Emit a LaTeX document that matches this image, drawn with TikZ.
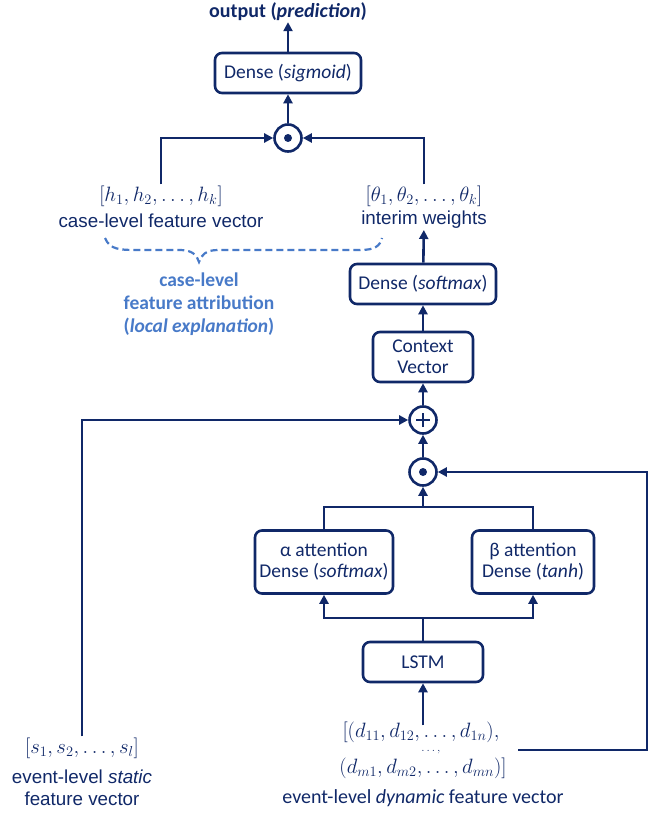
\documentclass[tikz,border=0pt]{standalone}
\usepackage{fontspec}
\setmainfont{Carlito}
\newfontfamily\arialf{Liberation Sans}
\usetikzlibrary{arrows.meta}
\definecolor{navy}{RGB}{16,40,104}
\definecolor{attb}{RGB}{72,122,200}
\begin{document}
\begin{tikzpicture}[x=1pt,y=-1pt,
  box/.style={draw=navy, line width=2.6pt, rounded corners=7pt, text=navy,
    font=\fontsize{19.5}{21}\selectfont, align=center, inner sep=0pt},
  opc/.style={draw=navy, circle, line width=2.6pt, minimum size=27pt, inner sep=0pt},
  conn/.style={draw=navy, line width=2.6pt},
  arr/.style={conn, -{Triangle[length=9pt,width=9pt]}},
  lbl/.style={text=navy, font=\arialf\fontsize{18.8}{21}\selectfont, align=center, inner sep=1pt},
  clbl/.style={text=navy, font=\fontsize{20}{22}\selectfont, align=center, inner sep=1pt},
  mth/.style={text=navy, font=\fontsize{20}{22}\selectfont, inner sep=1pt},
  note/.style={text=attb, font=\bfseries\fontsize{19.5}{23}\selectfont, align=center},
  brace/.style={draw=attb, line width=2.2pt, dash pattern=on 7pt off 4pt}
]
\useasboundingbox (0,0) rectangle (667,813);

% top part
\node[clbl, font=\bfseries\fontsize{20}{22}\selectfont] (out) at (288,12) {output (\textit{prediction})};
\node[box, minimum width=146pt, minimum height=40pt] (sig) at (288,73) {Dense (\textit{sigmoid})};
\node[opc] (m1) at (288,138) {};
\fill[navy] (m1.center) circle (4pt);

\node[mth] (hv) at (161,196) {$[h_1, h_2, \ldots, h_k]$};
\node[lbl] (hl) at (161,221) {case-level feature vector};
\node[mth, font=\fontsize{21}{23}\selectfont] (tv) at (424,196) {$[\theta_1, \theta_2, \ldots, \theta_k]$};
\node[lbl] (tl) at (424,220) {interim weights};

% brace
\path[brace] (105,238) .. controls (110,250) and (120,250) .. (140,250)
  -- (180,250) .. controls (192,250) and (197,255) .. (199,262)
  .. controls (201,255) and (206,250) .. (218,250)
  -- (360,250) .. controls (375,250) and (380,246) .. (382,238);
\node[note] (att) at (199,304) {case-level\\feature attribution\\(\textit{local explanation})};

% right column
\node[box, minimum width=146pt, minimum height=40pt] (smx) at (423,284) {Dense (\textit{softmax})};
\node[box, minimum width=100pt, minimum height=50pt] (ctx) at (423,357) {Context\\Vector};
\node[opc] (pl) at (423,420) {};
\draw[navy, line width=2.4pt] ([xshift=-7pt]pl.center) -- ([xshift=7pt]pl.center)
  ([yshift=-7pt]pl.center) -- ([yshift=7pt]pl.center);
\node[opc] (m2) at (423,472) {};
\fill[navy] (m2.center) circle (4pt);

\node[box, minimum width=138pt, minimum height=63pt] (alpha) at (324,562) {α attention\\Dense (\textit{softmax})};
\node[box, minimum width=122pt, minimum height=63pt] (beta) at (533,562) {β attention\\Dense (\textit{tanh})};
\node[box, minimum width=120pt, minimum height=40pt] (lstm) at (423,662) {LSTM};

% bottom inputs
\node[mth, inner sep=0pt] (dv1) at (421,732) {$[(d_{11}, d_{12}, \ldots, d_{1n}),$};
\node[mth, inner sep=0pt, font=\fontsize{13}{14}\selectfont] (dd) at (431,752) {$\ldots,$};
\node[mth, inner sep=0pt] (dv2) at (423,768) {$(d_{m1}, d_{m2}, \ldots, d_{mn})]$};
\node[clbl] (dl) at (423,798) {event-level \textit{dynamic} feature vector};

\node[mth] (sv) at (82,748) {$[s_1, s_2, \ldots, s_l]$};
\node[lbl, font=\arialf\fontsize{18.8}{21.5}\selectfont] (sl) at (82,788) {event-level \textit{static}\\feature vector};

\coordinate (ds) at (518,750);
\coordinate (rc) at (647,750);
\coordinate (j1) at (423,618);
\coordinate (j2) at (423,507);

% connectors
\draw[arr] (sig) -- (out);
\draw[arr] (m1) -- (sig);
\draw[arr] (hv.north) |- (m1.west);
\draw[arr] (tv.north) |- (m1.east);
\draw[arr] (smx) -- (tl);
\draw[arr] (ctx) -- (smx);
\draw[arr] (pl) -- (ctx);
\draw[arr] (m2) -- (pl);
\draw[arr] (sv.north) |- (pl.west);
\draw[arr] (ds) -- (rc) |- (m2.east);
\draw[arr] ([yshift=-4pt]dv1.north -| lstm.south) -- (lstm.south);
\draw[conn] (lstm.north) -- (j1);
\draw[arr] (j1) -| (alpha.south);
\draw[arr] (j1) -| (beta.south);
\draw[conn] (alpha.north) |- (j2) -| (beta.north);
\draw[arr] (j2) -- (m2.south);
\end{tikzpicture}
\end{document}
